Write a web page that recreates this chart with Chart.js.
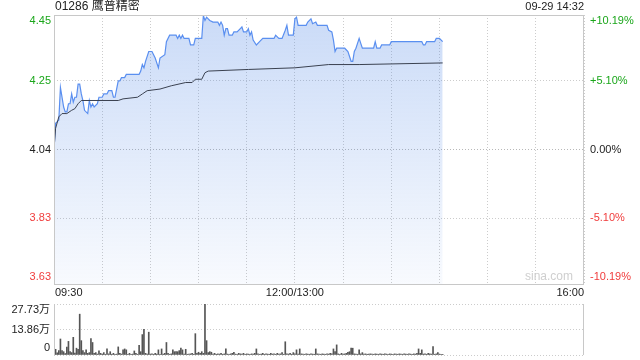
<!DOCTYPE html>
<html>
<head>
<meta charset="utf-8">
<script src="https://cdn.jsdelivr.net/npm/chart.js@4.4.0/dist/chart.umd.min.js"></script>
<style>
body { margin: 0; background: #fff; }
#wrap { position: relative; width: 640px; height: 360px; }
canvas { position: absolute; left: 0; }
</style>
</head>
<body>
<div id="wrap">
<canvas id="price-chart" width="640" height="300" style="top:0"></canvas>
<canvas id="vol-chart" width="640" height="60" style="top:300px"></canvas>
</div>
<script>
var stockName = "01286 鹰普精密";
var stampText = "09-29 14:32";
var prevClose = 4.04;

// minute index since 09:30 (lunch break removed), price
var priceMin = [0, 1, 3, 4, 6, 7, 8, 9, 10, 11, 12, 13, 14, 15, 16, 17, 18, 19, 21, 22, 23, 24, 25, 27, 28, 30, 31, 33, 34, 36, 37, 38, 40, 41, 42, 44, 45, 53, 54, 55, 56, 57, 59, 61, 62, 63, 65, 66, 69, 70, 72, 76, 77, 78, 79, 80, 81, 84, 85, 87, 88, 92, 93, 94, 95, 97, 99, 102, 103, 104, 105, 106, 107, 108, 109, 111, 112, 114, 116, 117, 118, 120, 121, 122, 123, 124, 126, 128, 130, 137, 138, 140, 142, 144, 145, 146, 149, 150, 151, 152, 157, 158, 160, 161, 163, 164, 170, 171, 173, 174, 175, 176, 181, 183, 185, 186, 187, 188, 190, 191, 192, 199, 200, 201, 203, 204, 209, 210, 229, 230, 231, 232, 237, 238, 240, 242];
var priceVal = [4.04, 4.12, 4.13, 4.23, 4.17, 4.155, 4.155, 4.18, 4.18, 4.21, 4.185, 4.20, 4.20, 4.24, 4.24, 4.21, 4.19, 4.16, 4.15, 4.19, 4.17, 4.18, 4.17, 4.18, 4.20, 4.20, 4.21, 4.21, 4.22, 4.22, 4.20, 4.20, 4.25, 4.25, 4.26, 4.26, 4.27, 4.27, 4.28, 4.30, 4.29, 4.31, 4.34, 4.34, 4.33, 4.32, 4.29, 4.32, 4.33, 4.37, 4.39, 4.39, 4.38, 4.39, 4.38, 4.39, 4.38, 4.38, 4.36, 4.36, 4.38, 4.38, 4.45, 4.435, 4.445, 4.435, 4.43, 4.43, 4.42, 4.43, 4.42, 4.39, 4.41, 4.41, 4.39, 4.39, 4.40, 4.40, 4.41, 4.415, 4.40, 4.40, 4.41, 4.39, 4.40, 4.375, 4.36, 4.37, 4.38, 4.38, 4.39, 4.38, 4.38, 4.405, 4.42, 4.39, 4.39, 4.44, 4.445, 4.42, 4.42, 4.43, 4.44, 4.425, 4.43, 4.42, 4.42, 4.405, 4.40, 4.375, 4.34, 4.35, 4.35, 4.34, 4.31, 4.31, 4.34, 4.35, 4.38, 4.365, 4.35, 4.35, 4.37, 4.35, 4.35, 4.36, 4.36, 4.37, 4.37, 4.36, 4.36, 4.37, 4.37, 4.38, 4.38, 4.37];

var avgMin = [0, 1, 3, 5, 8, 11, 13, 15, 17, 40, 43, 52, 55, 58, 66, 73, 82, 86, 88, 92, 94, 96, 121, 150, 171, 190, 242];
var avgVal = [4.04, 4.105, 4.14, 4.15, 4.15, 4.16, 4.165, 4.18, 4.19, 4.19, 4.195, 4.20, 4.21, 4.22, 4.225, 4.235, 4.245, 4.245, 4.255, 4.255, 4.275, 4.28, 4.285, 4.29, 4.30, 4.30, 4.305];

// volume per minute, in 万
var volVal = [
  1.5, 3.1, 1.2, 2.4, 8.7, 2.4, 1.8, 0.8, 4.3, 7.4,
  1.8, 1.3, 9.6, 1.0, 3.7, 3.1, 22.2, 7.8, 2.4, 1.3,
  2.8, 0.9, 1.3, 8.9, 6.8, 0.9, 1.3, 0.5, 2.2, 0.9,
  0.5, 1.3, 0.4, 3.3, 0.6, 1.8, 0.4, 0.9, 0.3, 0.5,
  4.4, 0.9, 0.5, 2.8, 3.3, 2.8, 0.4, 0.9, 0.3, 0.5,
  2.2, 0.9, 0.4, 5.2, 1.8, 11.1, 13.9, 0.9, 0.5, 12.4,
  0.5, 0.6, 0.4, 0.9, 0.5, 2.8, 0.4, 3.3, 0.5, 0.9,
  6.8, 0.9, 0.4, 0.6, 2.8, 1.8, 1.8, 1.8, 2.4, 3.7,
  2.8, 0.5, 3.1, 0.4, 0.5, 0.6, 0.9, 0.4, 11.6, 0.9,
  1.5, 0.9, 1.8, 0.9, 27.73, 7.8, 1.3, 1.8, 1.5, 0.5,
  0.9, 0.4, 0.6, 0.5, 0.9, 0.4, 0.6, 3.3, 0.5, 0.4,
  0.6, 0.9, 1.5, 0.5, 0.4, 0.9, 0.6, 0.5, 0.9, 0.4,
  0.6, 0.5, 0.4, 0.6, 0.5, 0.9, 3.3, 0.6, 0.4, 0.5,
  0.9, 0.4, 0.6, 0.5, 0.4, 0.9, 0.5, 0.6, 0.4, 0.9,
  0.5, 0.6, 1.3, 0.4, 7.2, 0.6, 0.5, 0.9, 0.4, 1.3,
  0.6, 2.8, 0.5, 3.3, 0.6, 0.5, 0.4, 0.6, 0.5, 0.4,
  0.6, 0.5, 0.4, 3.3, 0.6, 0.5, 0.4, 0.6, 0.5, 0.4,
  0.6, 0.5, 0.9, 0.6, 3.3, 1.8, 5.5, 0.6, 0.4, 0.9,
  0.5, 0.6, 0.9, 1.5, 1.8, 3.7, 3.7, 0.6, 0.5, 0.4,
  2.8, 0.6, 1.3, 0.5, 0.6, 0.4, 0.5, 0.6, 0.5, 0.4,
  0.6, 0.5, 0.4, 0.6, 0.5, 0.4, 0.6, 0.5, 0.4, 0.6,
  0.5, 0.4, 0.6, 0.5, 0.4, 0.6, 0.5, 0.4, 0.6, 0.5,
  0.4, 0.6, 0.5, 0.4, 0.6, 0.5, 0.9, 3.3, 0.9, 2.8,
  0.5, 0.6, 0.4, 0.9, 0.6, 0.5, 4.6, 0.4, 0.6, 1.3,
  0.5, 0.3, 0.2
];

var priceTicks = [3.6283, 3.83, 4.04, 4.25, 4.4517];
var priceLabels = ["3.63", "3.83", "4.04", "4.25", "4.45"];
var pctLabels = ["-10.19%", "-5.10%", "0.00%", "+5.10%", "+10.19%"];
var volTicks = [0, 13.86, 27.73];
var volLabels = ["0", "13.86万", "27.73万"];
var timeTicks = [0, 150, 330];
var timeLabels = ["09:30", "12:00/13:00", "16:00"];

var FONT = 'Arial, "Liberation Sans", "Noto Sans CJK SC", sans-serif';
var GRID = '#cccccc';

function tickColor(v) {
  if (v > prevClose + 0.001) return '#1aa61a';
  if (v < prevClose - 0.001) return '#f03c3c';
  return '#222222';
}

// shift first/last label inward, like the original
function labelY(area, py, i, n) {
  if (i === 0) return area.bottom - 7;
  if (i === n - 1) return area.top + 6;
  return py;
}

var priceText = {
  id: 'priceText',
  afterDraw: function(chart) {
    var ctx = chart.ctx, a = chart.chartArea;
    var ys = chart.scales.y, xs = chart.scales.x;
    ctx.save();
    ctx.strokeStyle = '#c8c8c8';
    ctx.lineWidth = 1;
    ctx.setLineDash([]);
    ctx.strokeRect(a.left + 0.5, a.top + 0.5, a.right - a.left - 1, a.bottom - a.top);

    ctx.textBaseline = 'middle';
    ctx.font = '11px ' + FONT;
    for (var i = 0; i < priceTicks.length; i++) {
      var y = labelY(a, ys.getPixelForValue(priceTicks[i]), i, priceTicks.length);
      ctx.fillStyle = tickColor(priceTicks[i]);
      ctx.textAlign = 'right';
      ctx.fillText(priceLabels[i], a.left - 3, y);
      ctx.textAlign = 'left';
      ctx.fillText(pctLabels[i], a.right + 6, y);
    }
    ctx.fillStyle = '#222';
    for (var j = 0; j < timeTicks.length; j++) {
      ctx.textAlign = j === 0 ? 'left' : (j === timeTicks.length - 1 ? 'right' : 'center');
      ctx.fillText(timeLabels[j], xs.getPixelForValue(timeTicks[j]) + (j === 0 ? 1 : 0), a.bottom + 9);
    }
    ctx.font = '12px ' + FONT;
    ctx.textAlign = 'left';
    ctx.fillText(stockName, a.left + 1, 7);
    ctx.font = '11px ' + FONT;
    ctx.textAlign = 'right';
    ctx.fillText(stampText, a.right, 7);
    ctx.font = '12px ' + FONT;
    ctx.fillStyle = '#cfcfcf';
    ctx.fillText('sina.com', a.right - 11, a.bottom - 7);
    ctx.restore();
  }
};

var volText = {
  id: 'volText',
  afterDraw: function(chart) {
    var ctx = chart.ctx, a = chart.chartArea, ys = chart.scales.y;
    ctx.save();
    ctx.strokeStyle = '#c8c8c8';
    ctx.lineWidth = 1;
    ctx.beginPath();
    ctx.moveTo(a.left + 0.5, a.top);
    ctx.lineTo(a.left + 0.5, a.bottom);
    ctx.moveTo(a.right - 0.5, a.top);
    ctx.lineTo(a.right - 0.5, a.bottom);
    ctx.stroke();
    ctx.font = '11px ' + FONT;
    ctx.fillStyle = '#222';
    ctx.textAlign = 'right';
    ctx.textBaseline = 'middle';
    for (var i = 0; i < volTicks.length; i++) {
      var y = labelY(a, ys.getPixelForValue(volTicks[i]), i, volTicks.length);
      ctx.fillText(volLabels[i], a.left - 4, y);
    }
    ctx.restore();
  }
};

function pts(xs, ys) {
  return xs.map(function(x, i) { return { x: x, y: ys[i] }; });
}

function areaFill(c) {
  var a = c.chart.chartArea;
  if (!a) return 'rgba(90,140,230,0.2)';
  var g = c.chart.ctx.createLinearGradient(0, a.top, 0, a.bottom);
  g.addColorStop(0, 'rgba(80,135,230,0.30)');
  g.addColorStop(1, 'rgba(80,135,230,0.04)');
  return g;
}

var priceChart = new Chart(document.getElementById('price-chart'), {
  type: 'line',
  data: {
    datasets: [
      {
        label: 'avg',
        data: pts(avgMin, avgVal),
        borderColor: '#3a4150',
        borderWidth: 1,
        pointRadius: 0,
        fill: false
      },
      {
        label: 'price',
        data: pts(priceMin, priceVal),
        borderColor: '#5a8ff0',
        borderWidth: 1.2,
        pointRadius: 0,
        fill: 'start',
        backgroundColor: areaFill
      }
    ]
  },
  options: {
    responsive: false,
    animation: false,
    layout: { padding: { top: 15, left: 0, right: 0, bottom: 0 } },
    plugins: { legend: { display: false }, tooltip: { enabled: false } },
    scales: {
      x: {
        type: 'linear', min: 0, max: 330,
        ticks: { display: false, stepSize: 30 },
        grid: { color: GRID, drawTicks: false },
        border: { display: false, dash: [1, 2] },
        afterFit: function(s) { s.height = 16; }
      },
      y: {
        min: priceTicks[0], max: priceTicks[priceTicks.length - 1],
        afterBuildTicks: function(s) { s.ticks = priceTicks.map(function(v) { return { value: v }; }); },
        ticks: { display: false },
        grid: { color: function(c) { return c.tick && Math.abs(c.tick.value - prevClose) < 0.001 ? '#b8b8b8' : GRID; }, drawTicks: false },
        border: { display: false, dash: [1, 2] },
        afterFit: function(s) { s.width = 54; }
      },
      y2: {
        position: 'right',
        min: priceTicks[0], max: priceTicks[priceTicks.length - 1],
        ticks: { display: false },
        grid: { display: false },
        border: { display: false },
        afterFit: function(s) { s.width = 56; }
      }
    }
  },
  plugins: [priceText]
});

var volChart = new Chart(document.getElementById('vol-chart'), {
  type: 'bar',
  data: {
    datasets: [{
      label: 'vol',
      data: volVal.map(function(v, i) { return { x: i, y: v }; }),
      backgroundColor: '#555555',
      barThickness: 1
    }]
  },
  options: {
    responsive: false,
    animation: false,
    layout: { padding: { top: 4, left: 0, right: 56, bottom: 5 } },
    plugins: { legend: { display: false }, tooltip: { enabled: false } },
    scales: {
      x: { type: 'linear', min: 0, max: 330, display: false, offset: false },
      y: {
        min: 0, max: 27.73,
        afterBuildTicks: function(s) { s.ticks = volTicks.map(function(v) { return { value: v }; }); },
        ticks: { display: false },
        grid: { color: GRID, drawTicks: false },
        border: { display: false, dash: [1, 2] },
        afterFit: function(s) { s.width = 54; }
      }
    }
  },
  plugins: [volText]
});
</script>
</body>
</html>
